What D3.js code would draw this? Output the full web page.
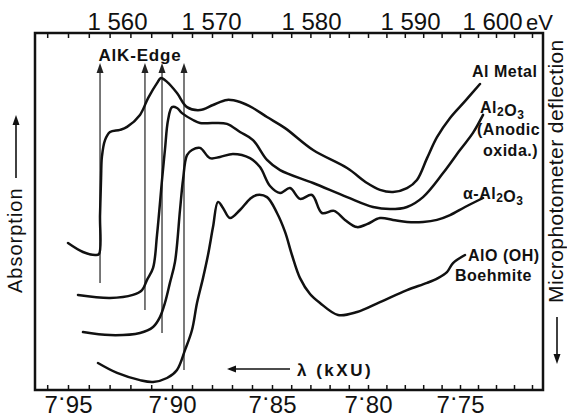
<!DOCTYPE html>
<html><head><meta charset="utf-8">
<script src="https://cdn.jsdelivr.net/npm/d3@7"></script>
<style>
html,body{margin:0;padding:0;background:#fff;}
svg{display:block;}
</style></head><body>
<svg id="chart" width="567" height="419"></svg>
<script>
// Al K absorption edge spectra: wavelength (kXU) vs microphotometer deflection (arb. units)
const alMetal = [
  [7.9500,49.0],[7.9428,46.0],[7.9370,45.0],[7.9351,45.3],[7.9346,58.3],[7.9341,70.7],
  [7.9337,77.7],[7.9322,83.3],[7.9298,86.0],[7.9250,86.7],[7.9216,87.7],[7.9154,91.7],
  [7.9115,97.3],[7.9072,102.3],[7.9053,104.0],[7.9024,102.7],[7.8975,99.0],[7.8925,94.3],
  [7.8860,93.3],[7.8795,95.0],[7.8725,96.7],[7.8660,96.0],[7.8595,94.0],[7.8525,91.0],
  [7.8432,87.3],[7.8286,80.0],[7.8109,74.0],[7.8005,69.0],[7.7935,66.7],[7.7864,66.0],
  [7.7788,67.3],[7.7734,70.0],[7.7679,77.3],[7.7625,84.3],[7.7554,90.7],[7.7472,96.3],[7.7389,102.0]
];
const anodicOxide = [
  [7.9452,31.7],[7.9298,30.7],[7.9188,31.7],[7.9144,33.3],[7.9120,36.7],[7.9091,40.7],
  [7.9072,51.7],[7.9048,70.0],[7.9034,80.0],[7.9019,90.0],[7.9000,94.3],[7.8975,94.0],
  [7.8950,92.3],[7.8895,90.0],[7.8860,89.0],[7.8795,89.0],[7.8725,88.7],[7.8660,86.0],
  [7.8595,83.3],[7.8525,76.7],[7.8458,73.3],[7.8286,69.0],[7.8109,64.3],[7.7973,61.0],
  [7.7880,60.3],[7.7788,61.0],[7.7701,64.3],[7.7592,72.3],[7.7500,80.0],[7.7428,85.7],[7.7372,91.7]
];
const alphaAlumina = [
  [7.9428,19.3],[7.9298,18.3],[7.9154,19.0],[7.9091,21.0],[7.9058,24.3],[7.9034,29.0],
  [7.9010,35.7],[7.8985,42.7],[7.8960,60.0],[7.8945,70.0],[7.8925,78.3],[7.8900,80.0],
  [7.8860,80.7],[7.8810,77.3],[7.8760,77.7],[7.8695,78.7],[7.8610,77.3],[7.8560,74.3],
  [7.8510,68.0],[7.8458,65.7],[7.8406,67.3],[7.8354,63.7],[7.8292,65.0],[7.8240,59.0],
  [7.8177,59.7],[7.8120,56.7],[7.8057,54.3],[7.8005,55.3],
  [7.7935,57.3],[7.7864,56.7],[7.7788,56.0],[7.7701,56.0],[7.7625,56.7],[7.7554,58.3],
  [7.7472,61.0],[7.7372,64.0]
];
const boehmite = [
  [7.9356,9.0],[7.9264,5.7],[7.9154,3.3],[7.9091,2.7],[7.9024,4.0],[7.8975,6.7],
  [7.8935,13.3],[7.8900,20.0],[7.8875,29.0],[7.8845,37.3],[7.8820,45.0],[7.8795,54.3],
  [7.8770,62.7],[7.8745,60.7],[7.8710,57.3],[7.8660,60.0],[7.8610,63.7],[7.8575,65.0],
  [7.8525,64.3],[7.8474,59.0],[7.8432,52.7],[7.8396,45.0],[7.8354,37.3],[7.8302,32.0],
  [7.8250,29.0],[7.8156,25.0],[7.8057,26.0],[7.7935,29.3],[7.7788,33.3],[7.7679,35.7],
  [7.7620,37.3],[7.7571,39.3],[7.7538,42.3],[7.7472,45.0]
];

// K-edge markers: wavelength of each edge and the deflection where its line starts
const edgeLambda = [7.9346, 7.9130, 7.9048, 7.8940];
const edgeFoot = [35.7, 26.7, 19.0, 6.7];
const edgeTop = 109;

// axis ticks
const lambdaMajor = [7.95, 7.90, 7.85, 7.80, 7.75];
const lambdaMinor = d3.range(26).map(i => +(7.96 - i * 0.01).toFixed(2));
const energyMajor = [1560, 1570, 1580, 1590, 1600];

const frame = {left: 35, right: 543, top: 33, bottom: 390};
const svg = d3.select("#chart");
const font = "Liberation Sans, Arial, sans-serif";

// wavelength scale (slightly non-uniform plate scale)
const x = d3.scaleLinear()
  .domain([7.95, 7.90, 7.85, 7.80, 7.75, 7.70])
  .range([68, 172, 272, 368, 460, 550]);
const y = d3.scaleLinear().domain([0, 119]).range([frame.bottom, frame.top]);
// photon energy positions along the top edge
const e = d3.scaleLinear()
  .domain(energyMajor)
  .range([117, 211, 311, 410, 492]);

const ink = "#111";

// frame
svg.append("rect")
  .attr("x", frame.left).attr("y", frame.top)
  .attr("width", frame.right - frame.left).attr("height", frame.bottom - frame.top)
  .attr("fill", "none").attr("stroke", ink).attr("stroke-width", 2.5);

// inward minor ticks, bottom and top
const tickBottom = d3.axisTop(x).tickValues(lambdaMinor).tickSize(5).tickFormat("");
svg.append("g").attr("transform", `translate(0,${frame.bottom})`).call(tickBottom)
  .call(g => g.select(".domain").remove())
  .call(g => g.selectAll("line").attr("stroke", ink).attr("stroke-width", 1.5));
const tickTop = d3.axisBottom(x).tickValues(lambdaMinor).tickSize(5).tickFormat("");
svg.append("g").attr("transform", `translate(0,${frame.top})`).call(tickTop)
  .call(g => g.select(".domain").remove())
  .call(g => g.selectAll("line").attr("stroke", ink).attr("stroke-width", 1.5));

// wavelength labels, written 7·95 with a raised decimal point
const lambdaAxis = d3.axisBottom(x).tickValues(lambdaMajor).tickSize(0).tickFormat("");
svg.append("g").attr("transform", `translate(0,${frame.bottom})`).call(lambdaAxis)
  .call(g => g.select(".domain").remove())
  .call(g => g.selectAll("text").attr("y", 23).attr("dy", 0)
    .attr("font-family", font).attr("font-size", 24).attr("fill", ink)
    .each(function(d) {
      const s = d.toFixed(2).split(".");
      const t = d3.select(this);
      t.append("tspan").text(s[0]);
      t.append("tspan").attr("dy", -8).text("\u00B7");
      t.append("tspan").attr("dy", 8).text(s[1]);
    }));

// energy labels
const fmtE = d3.formatLocale({decimal: ".", thousands: " ", grouping: [3], currency: ["", ""]}).format(",");
const energyAxis = d3.axisTop(e).tickValues(energyMajor).tickSize(0).tickFormat(fmtE);
svg.append("g").attr("transform", `translate(0,${frame.top})`).call(energyAxis)
  .call(g => g.select(".domain").remove())
  .call(g => g.selectAll("text").attr("y", -3).attr("dy", 0)
    .attr("font-family", font).attr("font-size", 24).attr("fill", ink));
svg.append("text").attr("x", e(1600) + 34).attr("y", frame.top - 3)
  .attr("font-family", font).attr("font-size", 22).attr("fill", ink)
  .text("eV");

// edge markers
const markers = svg.append("g");
edgeLambda.forEach((l, i) => {
  const xp = x(l);
  markers.append("line")
    .attr("x1", xp).attr("x2", xp).attr("y1", y(edgeFoot[i])).attr("y2", y(edgeTop) + 6)
    .attr("stroke", "#333").attr("stroke-width", 1.3);
  markers.append("path")
    .attr("d", `M${xp},${y(edgeTop)} L${xp - 3.5},${y(edgeTop) + 10} L${xp + 3.5},${y(edgeTop) + 10} Z`)
    .attr("fill", "#222");
});
svg.append("text").attr("x", x(7.9154)).attr("y", 61).attr("text-anchor", "middle")
  .attr("font-family", font).attr("font-size", 17)
  .attr("font-weight", "bold").attr("letter-spacing", 0.8).attr("fill", ink).text("AlK-Edge");

// spectra
const line = d3.line().x(d => x(d[0])).y(d => y(d[1])).curve(d3.curveCatmullRom.alpha(0.5));
[alMetal, anodicOxide, alphaAlumina, boehmite].forEach(s => {
  svg.append("path").attr("d", line(s)).attr("fill", "none")
    .attr("stroke", ink).attr("stroke-width", 2.5)
    .attr("stroke-linejoin", "round").attr("stroke-linecap", "round");
});

// curve labels
const lab = (xp, yp, parts) => {
  const t = svg.append("text").attr("x", xp).attr("y", yp)
    .attr("font-family", font).attr("font-size", 16)
    .attr("font-weight", "bold").attr("letter-spacing", 0.5).attr("fill", ink);
  parts.forEach(p => {
    if (typeof p === "string") t.append("tspan").text(p);
    else t.append("tspan").attr("dy", p.dy).attr("font-size", 12).text(p.t);
  });
  return t;
};
lab(472, 77, ["Al Metal"]);
lab(480, 113, ["Al", {t: "2", dy: 3}, {t: "", dy: -3}, "O", {t: "3", dy: 3}]);
lab(477, 135, ["(Anodic"]);
lab(483, 156, ["oxida.)"]);
lab(463, 199, ["\u03B1-Al", {t: "2", dy: 3}, {t: "", dy: -3}, "O", {t: "3", dy: 3}]);
lab(468, 261, ["AlO (OH)"]);
lab(455, 281, ["Boehmite"]);

// wavelength direction note
svg.append("line").attr("x1", 290).attr("x2", 229).attr("y1", 369).attr("y2", 369)
  .attr("stroke", ink).attr("stroke-width", 1.6);
svg.append("path").attr("d", "M227,369 L236,365.5 L236,372.5 Z").attr("fill", ink);
svg.append("text").attr("x", 297).attr("y", 376)
  .attr("font-family", font).attr("font-size", 17)
  .attr("font-weight", "bold").attr("letter-spacing", 2.5).attr("fill", ink).text("\u03BB (kXU)");

// left side: absorption
svg.append("text").attr("transform", "translate(22,293) rotate(-90)")
  .attr("font-family", font).attr("font-size", 20)
  .attr("letter-spacing", 1).attr("fill", ink).text("Absorption");
svg.append("line").attr("x1", 16).attr("x2", 16).attr("y1", 178).attr("y2", 124)
  .attr("stroke", ink).attr("stroke-width", 1.6);
svg.append("path").attr("d", "M16,115 L12.5,125 L19.5,125 Z").attr("fill", ink);

// right side: microphotometer deflection
svg.append("text").attr("transform", "translate(563,303) rotate(-90)")
  .attr("font-family", font).attr("font-size", 21)
  .attr("letter-spacing", 0.4).attr("fill", ink).text("Microphotometer deflection");
svg.append("line").attr("x1", 557).attr("x2", 557).attr("y1", 317).attr("y2", 355)
  .attr("stroke", ink).attr("stroke-width", 1.6);
svg.append("path").attr("d", "M557,364 L553.5,354 L560.5,354 Z").attr("fill", ink);
</script>
</body></html>
